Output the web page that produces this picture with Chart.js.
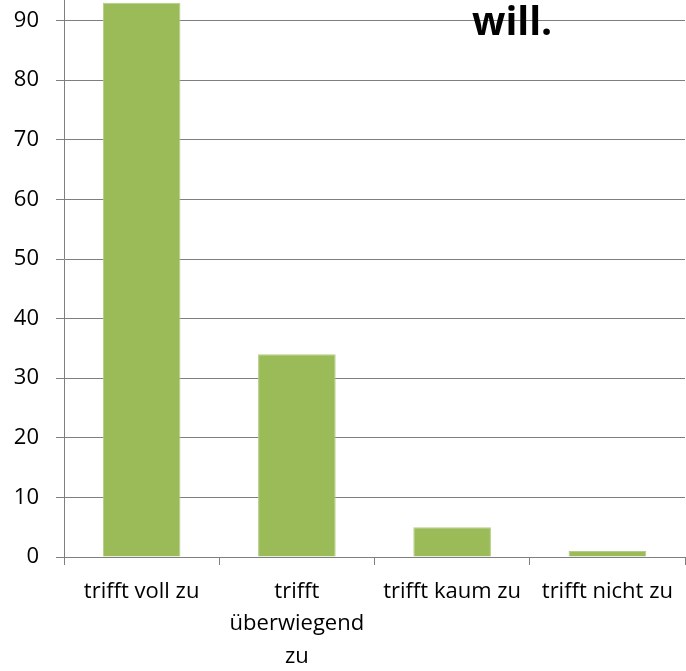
<!DOCTYPE html>
<html>
<head>
<meta charset="utf-8">
<script src="https://cdn.jsdelivr.net/npm/chart.js@4/dist/chart.umd.min.js"></script>
<style>
  html, body { margin: 0; padding: 0; background: #fff; overflow: hidden; width: 686px; height: 671px; }
  #wrap { position: absolute; left: 0; top: -61px; width: 686px; height: 732px; }
</style>
</head>
<body>
<div id="wrap"><canvas id="c" width="686" height="732"></canvas></div>
<script>
const categories = [["trifft voll zu"], ["trifft", "überwiegend", "zu"], ["trifft kaum zu"], ["trifft nicht zu"]];
const values = [93, 34, 5, 1];
const yMin = 0, yMax = 100, yStep = 10;
const titleText = "will.";

const titlePlugin = {
  id: 'partialTitle',
  afterDraw(chart) {
    const ctx = chart.ctx;
    ctx.save();
    ctx.font = 'bold 39px "Open Sans"';
    ctx.fillStyle = '#000';
    ctx.textAlign = 'left';
    ctx.textBaseline = 'alphabetic';
    ctx.fillText(titleText, 472, 96);
    ctx.restore();
  }
};

new Chart(document.getElementById('c'), {
  type: 'bar',
  data: {
    labels: categories,
    datasets: [{
      data: values,
      backgroundColor: '#9BBB59',
      borderColor: '#B4CD86',
      borderWidth: 1,
      categoryPercentage: 1.0,
      barPercentage: 0.5
    }]
  },
  options: {
    responsive: false,
    animation: false,
    devicePixelRatio: 1,
    layout: { padding: { top: 22, right: 1, left: 0, bottom: 0 } },
    plugins: { legend: { display: false }, title: { display: false }, tooltip: { enabled: false } },
    scales: {
      x: {
        grid: { display: true, drawOnChartArea: false, drawTicks: true, tickLength: 8, color: '#7f7f7f', lineWidth: 1, offset: true },
        border: { display: true, color: '#7f7f7f', width: 1 },
        ticks: { color: '#000', font: { family: 'Open Sans', size: 22, lineHeight: 1.48 }, padding: 10, maxRotation: 0, minRotation: 0, autoSkip: false },
        afterFit(scale) { scale.height = 114; scale.paddingLeft = 0; scale.paddingRight = 0; }
      },
      y: {
        min: yMin, max: yMax,
        grid: { color: '#7f7f7f', lineWidth: 1, tickLength: 8 },
        border: { display: true, color: '#7f7f7f', width: 1 },
        ticks: { stepSize: yStep, color: '#000', font: { family: 'Open Sans', size: 22 }, padding: 17 },
        afterFit(scale) { scale.width = 64; scale.paddingTop = 0; scale.paddingBottom = 0; }
      }
    }
  },
  plugins: [titlePlugin]
});
</script>
</body>
</html>
